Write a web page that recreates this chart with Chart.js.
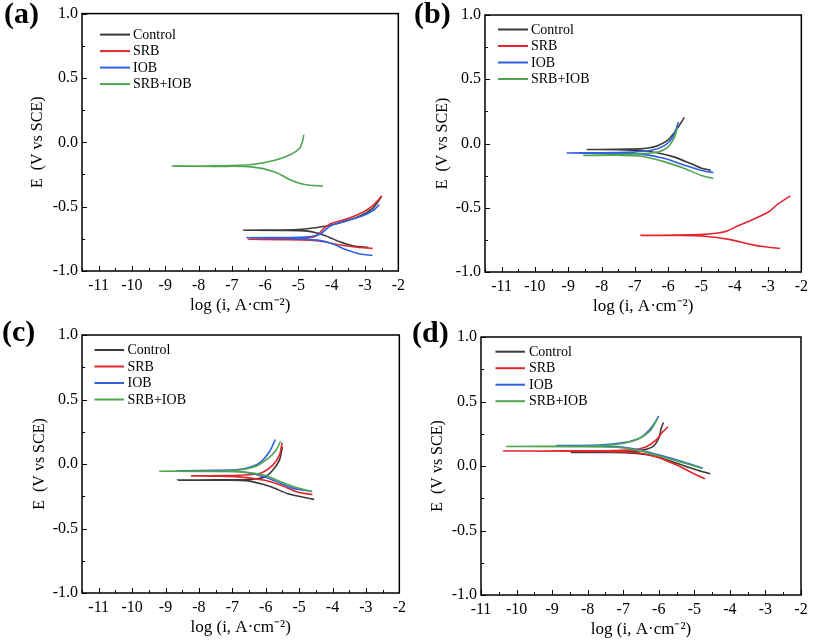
<!DOCTYPE html>
<html>
<head>
<meta charset="utf-8">
<script src="https://cdn.jsdelivr.net/npm/chart.js@4/dist/chart.umd.min.js"></script>
<style>
html,body{margin:0;padding:0;background:#fff;}
#wrap{position:relative;width:813px;height:640px;overflow:hidden;background:#fff;}
canvas{position:absolute;}
.lbl{position:absolute;font:bold 30px 'Liberation Serif','Times New Roman',serif;color:#000;line-height:1;white-space:nowrap;}
</style>
</head>
<body>
<div id="wrap">
  <canvas id="ca" width="410" height="320" style="left:0px;top:0px;width:410px;height:320px"></canvas>
  <canvas id="cb" width="410" height="320" style="left:403px;top:0px;width:410px;height:320px"></canvas>
  <canvas id="cc" width="411" height="320" style="left:0px;top:320px;width:411px;height:320px"></canvas>
  <canvas id="cd" width="414" height="320" style="left:399px;top:320px;width:414px;height:320px"></canvas>
  <div class="lbl" style="left:4px;top:-2px">(a)</div>
  <div class="lbl" style="left:414px;top:-2px">(b)</div>
  <div class="lbl" style="left:2px;top:316px">(c)</div>
  <div class="lbl" style="left:412px;top:317px">(d)</div>
</div>
<script>
// ---------------- data ----------------
const seriesLabels = ['Control', 'SRB', 'IOB', 'SRB+IOB'];
const xTickValues = [-11, -10, -9, -8, -7, -6, -5, -4, -3, -2];
const yTickValues = [-1.0, -0.5, 0.0, 0.5, 1.0];
const xTitle = 'log (i, A\u00B7cm\u207B\u00B2)';
const yTitle = 'E  (V vs SCE)';

// each curve: [log i, E] from cathodic end -> corrosion tip -> anodic end
// panel (a)
const aControl = [[-2.9,-0.817],[-3.34,-0.806],[-3.74,-0.775],[-4.23,-0.722],[-4.72,-0.69],[-5.5,-0.684],[-6.65,-0.683],
  [-5.5,-0.681],[-4.9,-0.676],[-4.5,-0.664],[-4.03,-0.645],[-3.54,-0.61],[-3.1,-0.567],[-2.8,-0.52],[-2.62,-0.465],[-2.5,-0.418]];
const aSRB = [[-2.77,-0.824],[-3.24,-0.816],[-3.74,-0.798],[-4.23,-0.773],[-4.63,-0.76],[-5.5,-0.756],[-6.52,-0.754],
  [-5.5,-0.752],[-4.75,-0.745],[-4.45,-0.725],[-4.25,-0.672],[-4.05,-0.635],[-3.54,-0.595],[-3.05,-0.542],[-2.75,-0.488],[-2.5,-0.418]];
const aIOB = [[-2.78,-0.879],[-3.15,-0.868],[-3.54,-0.837],[-4.03,-0.785],[-4.43,-0.76],[-5.5,-0.745],[-6.55,-0.742],
  [-5.5,-0.74],[-4.72,-0.735],[-4.33,-0.71],[-4.03,-0.648],[-3.54,-0.608],[-3.05,-0.568],[-2.75,-0.528],[-2.57,-0.483]];
const aSRBIOB = [[-4.26,-0.341],[-4.82,-0.328],[-5.22,-0.295],[-5.71,-0.23],[-6.4,-0.191],[-7.5,-0.187],[-8.8,-0.185],
  [-7.5,-0.183],[-6.4,-0.173],[-5.71,-0.14],[-5.22,-0.093],[-4.97,-0.049],[-4.87,0.016],[-4.84,0.06]];
// panel (b)
const bControl = [[-4.72,-0.208],[-5.02,-0.19],[-5.31,-0.158],[-5.81,-0.106],[-6.3,-0.074],[-6.8,-0.055],[-7.5,-0.048],[-8.43,-0.047],
  [-7.2,-0.044],[-6.6,-0.035],[-6.3,-0.015],[-6.01,0.026],[-5.76,0.104],[-5.51,0.203]];
const bSRB = [[-2.64,-0.816],[-3.04,-0.806],[-3.53,-0.785],[-4.13,-0.748],[-4.92,-0.722],[-5.8,-0.716],[-6.82,-0.715],
  [-5.8,-0.713],[-4.92,-0.707],[-4.5,-0.697],[-4.23,-0.681],[-3.9,-0.64],[-3.63,-0.611],[-2.99,-0.533],[-2.69,-0.468],[-2.33,-0.408]];
const bIOB = [[-4.64,-0.226],[-5.02,-0.208],[-5.51,-0.169],[-6.1,-0.117],[-6.8,-0.083],[-7.5,-0.076],[-9.03,-0.074],
  [-7.3,-0.068],[-6.5,-0.052],[-6.1,-0.015],[-5.86,0.05],[-5.69,0.168]];
const bSRBIOB = [[-4.64,-0.273],[-5.02,-0.247],[-5.51,-0.195],[-6.1,-0.143],[-6.8,-0.099],[-7.5,-0.092],[-8.53,-0.092],
  [-7.0,-0.082],[-6.3,-0.066],[-6.01,-0.028],[-5.81,0.05],[-5.72,0.125]];
// panel (c)
const cControl = [[-4.55,-0.274],[-5.34,-0.23],[-5.83,-0.178],[-6.52,-0.131],[-7.5,-0.126],[-8.64,-0.125],
  [-7.5,-0.123],[-6.52,-0.12],[-6.03,-0.1],[-5.79,-0.048],[-5.59,0.03],[-5.5,0.134]];
const cSRB = [[-4.6,-0.237],[-5.05,-0.217],[-5.54,-0.165],[-6.03,-0.126],[-6.82,-0.1],[-7.5,-0.094],[-8.22,-0.092],
  [-7.3,-0.09],[-6.82,-0.087],[-6.14,-0.069],[-5.79,-0.009],[-5.59,0.069],[-5.51,0.165]];
const cIOB = [[-4.63,-0.21],[-5.14,-0.191],[-5.54,-0.152],[-6.03,-0.1],[-6.82,-0.056],[-7.8,-0.054],[-8.64,-0.053],
  [-7.5,-0.049],[-6.82,-0.043],[-6.43,-0.022],[-6.14,0.017],[-5.89,0.095],[-5.71,0.19]];
const cSRBIOB = [[-4.61,-0.214],[-5.14,-0.178],[-5.54,-0.139],[-6.03,-0.087],[-6.82,-0.061],[-8.0,-0.057],[-9.18,-0.056],
  [-8.0,-0.055],[-7.02,-0.053],[-6.33,-0.022],[-5.93,0.043],[-5.69,0.107],[-5.56,0.175]];
// panel (d)
const dControl = [[-4.55,-0.06],[-4.95,-0.029],[-5.51,0.023],[-6.07,0.074],[-6.73,0.1],[-7.5,0.105],[-8.46,0.106],
  [-7.19,0.107],[-6.54,0.119],[-6.17,0.15],[-6.0,0.215],[-5.93,0.293],[-5.87,0.337]];
const dSRB = [[-4.7,-0.1],[-5.05,-0.054],[-5.42,-0.002],[-5.98,0.063],[-6.54,0.101],[-7.19,0.111],[-8.5,0.115],[-10.37,0.116],
  [-8.5,0.117],[-7.66,0.118],[-6.73,0.125],[-6.35,0.15],[-6.07,0.202],[-5.88,0.267],[-5.74,0.304]];
const dIOB = [[-4.77,-0.015],[-5.42,0.041],[-5.98,0.085],[-6.54,0.124],[-7.19,0.15],[-8.0,0.156],[-8.88,0.158],
  [-7.66,0.162],[-6.98,0.181],[-6.54,0.215],[-6.26,0.28],[-6.08,0.35],[-6.0,0.389]];
const dSRBIOB = [[-4.77,-0.02],[-5.42,0.034],[-5.98,0.077],[-6.54,0.119],[-7.19,0.145],[-8.5,0.15],[-10.28,0.151],
  [-8.5,0.153],[-7.66,0.156],[-6.98,0.176],[-6.54,0.215],[-6.26,0.267],[-6.07,0.35],[-6.03,0.37]];

// ---------------- styling ----------------
const seriesColors = ['#3a3a3a', '#e3262b', '#2f62e3', '#4fa64f'];
const FONT = "'Liberation Serif', 'Times New Roman', serif";

const framePlugin = {
  id: 'frameTicks',
  afterDatasetsDraw(chart) {
    const {ctx, chartArea: a, scales: {x, y}} = chart;
    ctx.save();
    ctx.strokeStyle = '#000';
    ctx.lineWidth = 1;
    ctx.beginPath();
    for (let k = Math.ceil(x.min * 2); k <= Math.floor(x.max * 2); k++) {
      const px = Math.round(x.getPixelForValue(k / 2)) + 0.5;
      const len = (k % 2 === 0) ? 5 : 3;
      ctx.moveTo(px, a.bottom); ctx.lineTo(px, a.bottom - len);
    }
    for (let k = Math.ceil(y.min * 4); k <= Math.floor(y.max * 4); k++) {
      const py = Math.round(y.getPixelForValue(k / 4)) + 0.5;
      const len = (k % 2 === 0) ? 5 : 3;
      ctx.moveTo(a.left, py); ctx.lineTo(a.left + len, py);
    }
    ctx.stroke();
    ctx.lineWidth = 1.5;
    ctx.strokeRect(a.left, a.top, a.right - a.left, a.bottom - a.top);
    ctx.restore();
  }
};

const innerLegend = {
  id: 'innerLegend',
  afterDraw(chart, args, opts) {
    const {ctx, chartArea: a} = chart;
    ctx.save();
    ctx.font = '14px ' + FONT;
    ctx.textBaseline = 'middle';
    ctx.fillStyle = '#000';
    chart.data.datasets.forEach((ds, i) => {
      const yy = a.top + opts.y0 + i * 16.5;
      ctx.strokeStyle = ds.borderColor;
      ctx.lineWidth = 2;
      ctx.beginPath();
      ctx.moveTo(a.left + opts.l0, yy); ctx.lineTo(a.left + opts.l1, yy);
      ctx.stroke();
      ctx.fillText(ds.label, a.left + opts.t0, yy + 0.5);
    });
    ctx.restore();
  }
};

function makeChart(id, curves, p) {
  return new Chart(document.getElementById(id), {
    type: 'scatter',
    data: {
      datasets: curves.map((c, i) => ({
        label: seriesLabels[i],
        data: c.map(([x, y]) => ({x, y})),
        borderColor: seriesColors[i],
        backgroundColor: seriesColors[i],
        showLine: true,
        pointRadius: 0,
        borderWidth: 1.6,
        tension: 0.3,
        order: 4 - i
      }))
    },
    options: {
      responsive: false,
      animation: false,
      events: [],
      layout: {padding: {top: p.padTop, right: p.padRight, left: 0, bottom: 0}},
      plugins: {
        legend: {display: false},
        tooltip: {enabled: false},
        innerLegend: p.legend
      },
      scales: {
        x: {
          type: 'linear', min: p.xMin, max: -2,
          grid: {display: false, drawTicks: false}, border: {display: false},
          afterBuildTicks: s => { s.ticks = xTickValues.map(v => ({value: v})); },
          afterFit: s => { s.height = p.xH; },
          ticks: {color: '#000', font: {family: FONT, size: 16}, padding: 5, maxRotation: 0, autoSkip: false,
                  callback: v => String(v)},
          title: {display: true, text: xTitle, color: '#000', font: {family: FONT, size: 17},
                  padding: {top: 0, bottom: p.xTitlePad}}
        },
        y: {
          type: 'linear', min: -1, max: 1,
          grid: {display: false, drawTicks: false}, border: {display: false},
          afterBuildTicks: s => { s.ticks = yTickValues.map(v => ({value: v})); },
          afterFit: s => { s.width = 82; },
          ticks: {color: '#000', font: {family: FONT, size: 16}, padding: 4,
                  callback: v => Number(v).toFixed(1)},
          title: {display: true, text: yTitle, color: '#000', font: {family: FONT, size: 16},
                  padding: {top: p.yTitlePad, bottom: 0}}
        }
      }
    },
    plugins: [framePlugin, innerLegend]
  });
}

makeChart('ca', [aControl, aSRB, aIOB, aSRBIOB],
  {padTop: 13, padRight: 8, xMin: -11.5, xH: 49, xTitlePad: 4.4, yTitlePad: 28.4,
   legend: {l0: 18, l1: 48, t0: 51, y0: 21}});
makeChart('cb', [bControl, bSRB, bIOB, bSRBIOB],
  {padTop: 15, padRight: 8, xMin: -11.5, xH: 48, xTitlePad: 3.4, yTitlePad: 30.4,
   legend: {l0: 13, l1: 43, t0: 46, y0: 14.5}});
makeChart('cc', [cControl, cSRB, cIOB, cSRBIOB],
  {padTop: 15, padRight: 8, xMin: -11.5, xH: 47, xTitlePad: 2.4, yTitlePad: 30.4,
   legend: {l0: 12.5, l1: 42, t0: 45.5, y0: 15}});
makeChart('cd', [dControl, dSRB, dIOB, dSRBIOB],
  {padTop: 17, padRight: 12, xMin: -11, xH: 45, xTitlePad: 0.4, yTitlePad: 29.4,
   legend: {l0: 14.5, l1: 44, t0: 48, y0: 14.7}});
</script>
</body>
</html>
